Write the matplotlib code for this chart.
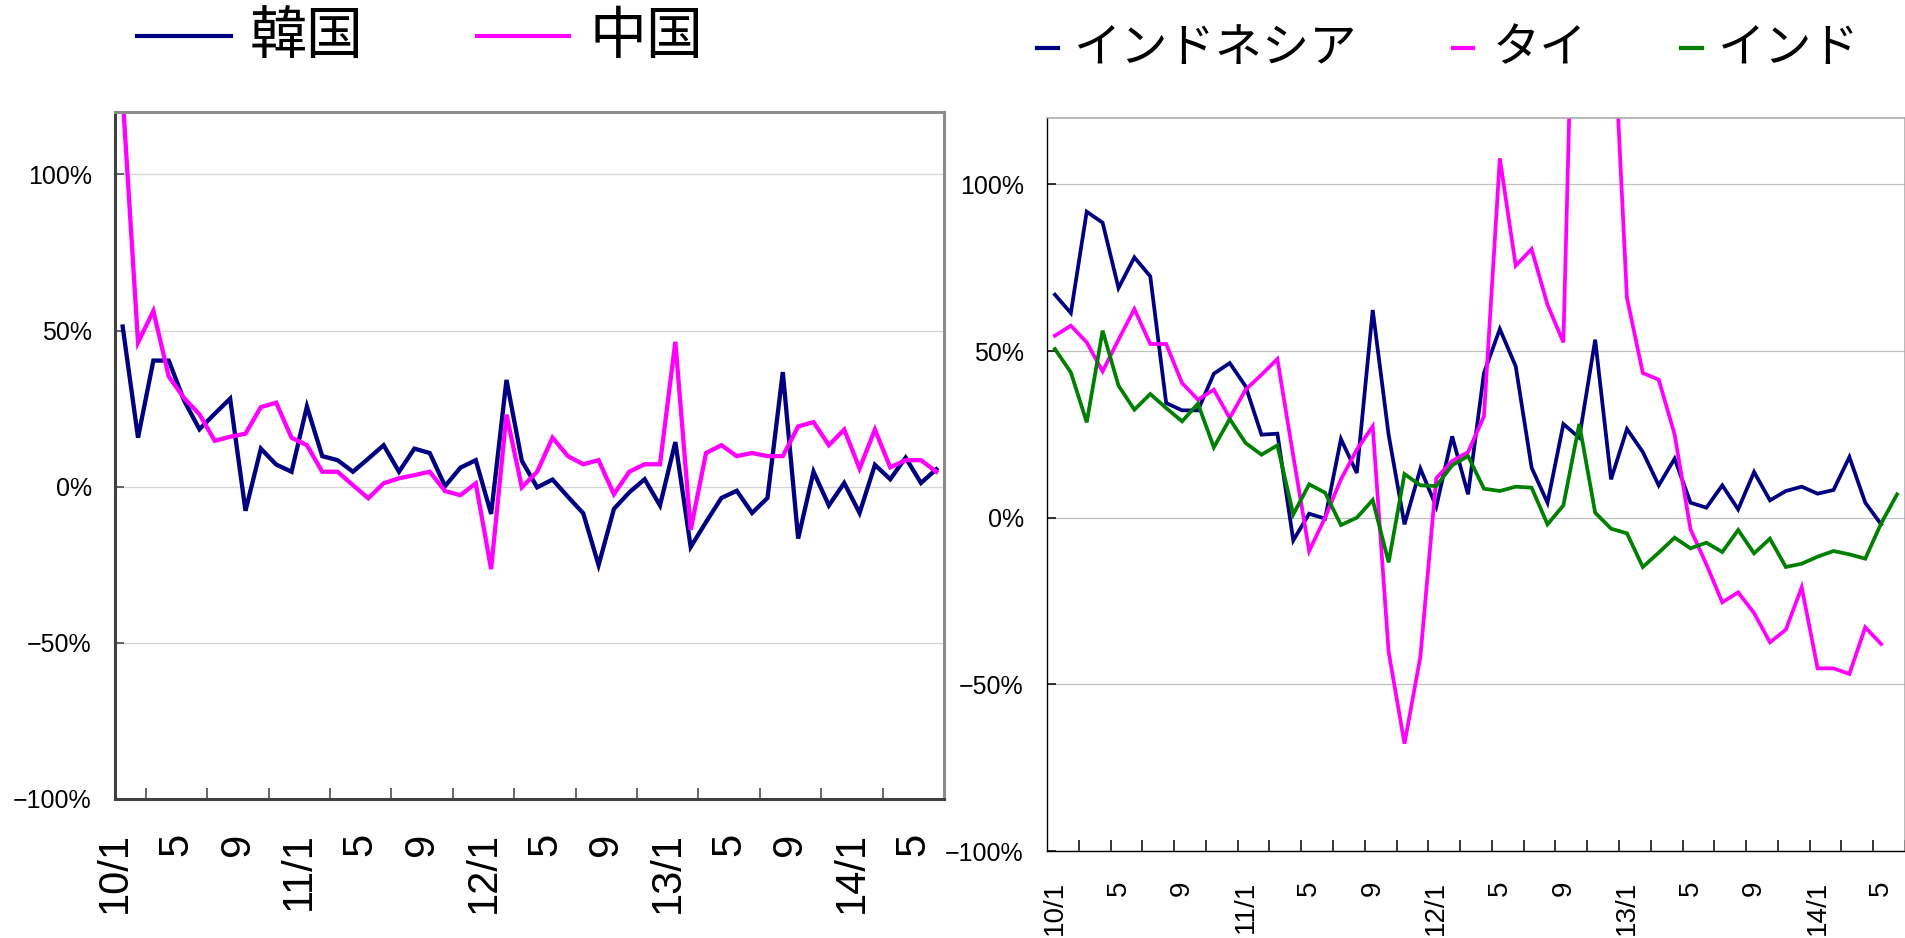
import numpy as np
import matplotlib
matplotlib.use("Agg")
import matplotlib.pyplot as plt
from matplotlib.lines import Line2D

# category axis: monthly, 2010/1 .. 2014/6
n_months = 54
month_labels = ["10/1", "5", "9", "11/1", "5", "9", "12/1", "5", "9",
                "13/1", "5", "9", "14/1", "5"]
pct_ticks = [-100, -50, 0, 50, 100]
pct_labels = ["\u2212100%", "\u221250%", "0%", "50%", "100%"]

# left chart (y/y change, %)
korea = [51.3, 15.7, 40.4, 40.4, 27.6, 18.4, 23.4, 28.2, -7.7, 12.2,
         7.1, 4.8, 25.7, 9.8, 8.5, 4.8, 9.0, 13.3, 4.8, 12.2,
         10.8, 0.2, 6.1, 8.5, -8.7, 34.2, 8.3, -0.2, 2.3, -3.2,
         -8.5, -25.1, -7.1, -1.8, 2.4, -6.0, 14.3, -19.3, -11.3, -3.6,
         -1.3, -8.4, -3.6, 36.7, -16.6, 4.8, -6.0, 1.2, -8.4, 7.0,
         2.4, 9.3, 1.2, 5.6]
china = [125.0, 46.2, 56.3, 35.3, 28.4, 23.2, 14.7, 16.0, 17.0, 25.5,
         26.9, 15.7, 13.3, 4.8, 4.8, 0.5, -3.7, 1.1, 2.7, 3.7,
         4.8, -1.4, -2.7, 1.1, -26.4, 23.1, -0.2, 4.8, 15.7, 9.8,
         7.2, 8.5, -2.4, 4.8, 7.2, 7.2, 46.4, -13.8, 10.8, 13.3,
         9.8, 10.8, 9.8, 9.8, 19.3, 20.7, 13.3, 18.3, 5.8, 18.3,
         6.2, 8.5, 8.5, 4.8]

# right chart
indonesia = [66.9, 61.4, 91.8, 88.5, 68.9, 78.1, 72.4, 34.4, 32.2, 32.2,
             43.2, 46.4, 39.4, 24.9, 25.2, -6.8, 1.2, -0.3, 23.6, 13.4,
             62.3, 24.9, -2.0, 14.7, 3.3, 24.4, 7.0, 43.4, 56.6, 45.4,
             15.0, 4.5, 28.1, 24.0, 53.4, 11.5, 26.6, 19.7, 9.7, 17.7,
             4.5, 3.0, 9.7, 2.5, 13.7, 5.2, 8.0, 9.3, 7.2, 8.3,
             18.2, 4.5, -2.0, np.nan]
thailand = [54.6, 57.6, 52.6, 43.9, 53.4, 62.6, 52.1, 52.1, 40.4, 35.4,
            38.4, 29.9, 38.4, 42.9, 47.6, 18.5, -10.0, 0.0, 11.5, 20.4,
            27.4, -40.2, -67.8, -41.7, 11.8, 17.0, 19.7, 30.4, 107.8, 75.6,
            80.6, 63.9, 52.6, 238.0, 200.0, 164.0, 66.0, 43.4, 41.4, 25.0,
            -3.5, -14.0, -25.4, -22.4, -28.6, -37.4, -33.6, -20.9, -45.2, -45.2,
            -46.9, -32.9, -37.9, np.nan]
india = [50.6, 43.6, 28.6, 56.1, 39.6, 32.4, 37.1, 32.9, 28.9, 34.2,
         21.1, 29.6, 22.4, 18.9, 21.7, 1.0, 10.0, 7.5, -2.2, 0.0,
         5.3, -13.4, 13.1, 9.7, 9.5, 15.7, 18.5, 8.7, 8.0, 9.3,
         9.0, -2.0, 3.7, 28.1, 1.5, -3.3, -4.7, -14.8, -10.5, -6.0,
         -9.2, -7.5, -10.3, -3.7, -10.7, -6.3, -14.8, -13.8, -11.7, -10.0,
         -11.0, -12.3, -1.7, 7.0]

NAVY = "#000080"
MAGENTA = "#FF00FF"
GREEN = "#008000"
JP = ["Noto Sans CJK JP", "DejaVu Sans"]

plt.rcParams["font.family"] = ["Liberation Sans", "DejaVu Sans"]

W, H = 1906, 938
fig = plt.figure(figsize=(W / 100, H / 100), dpi=100)


def px_box(x0, y0, x1, y1):
	return [x0 / W, 1 - y1 / H, (x1 - x0) / W, (y1 - y0) / H]


def setup(ax, lab_pos, lab_size, lab_pad, tick_len, dark, dark_lw, light, light_lw, grid_c):
	ax.set_xlim(-0.5, n_months - 0.5)
	ax.set_ylim(-100, 120)
	ax.set_yticks(pct_ticks, pct_labels)
	ax.yaxis.grid(True, color=grid_c, lw=0.9)
	ax.set_axisbelow(True)
	# labels without marks, marks every 2 months between categories
	ax.set_xticks(lab_pos, month_labels, rotation=90, fontsize=lab_size)
	ax.set_xticks(np.arange(1.5, n_months, 2), minor=True)
	ax.tick_params(axis="x", which="major", length=0, pad=lab_pad)
	ax.tick_params(axis="x", which="minor", direction="in", length=tick_len, width=1.1, color=dark)
	ax.tick_params(axis="y", direction="in", length=6.3, width=1.1, color=dark,
	               labelsize=18, pad=16.8)
	for s in ("left", "bottom"):
		ax.spines[s].set_color(dark)
		ax.spines[s].set_linewidth(dark_lw)
	for s in ("top", "right"):
		ax.spines[s].set_color(light)
		ax.spines[s].set_linewidth(light_lw)


x = np.arange(n_months)

# ---- left chart
ax1 = fig.add_axes(px_box(115, 112, 944, 799))
setup(ax1, np.arange(-0.5, n_months - 2, 4), 30, 24, 7.7,
      "#404040", 2.2, "#8c8c8c", 2.2, "#d4d4d4")
ax1.plot(x, korea, color=NAVY, lw=3.1, solid_joinstyle="miter")
ax1.plot(x, china, color=MAGENTA, lw=3.1, solid_joinstyle="miter")

# ---- right chart
ax2 = fig.add_axes(px_box(1047, 117.7, 1905, 851))
setup(ax2, np.arange(0, n_months, 4), 20, 21.5, 8,
      "#000000", 1.0, "#a6a6a6", 1.1, "#c0c0c0")
ax2.plot(x, indonesia, color=NAVY, lw=2.7, solid_joinstyle="miter")
ax2.plot(x, thailand, color=MAGENTA, lw=2.7, solid_joinstyle="miter")
ax2.plot(x, india, color=GREEN, lw=2.7, solid_joinstyle="miter")


# ---- legends drawn on the figure
def legend_item(x0, x1, y, color, lw, text, tx, size):
	fig.add_artist(Line2D([x0 / W, x1 / W], [1 - y / H, 1 - y / H],
	                      transform=fig.transFigure, color=color, lw=lw))
	fig.text(tx / W, 1 - y / H, text, family=JP, fontsize=size,
	         ha="left", va="center")


legend_item(137, 231, 36.5, NAVY, 3.0, "韓国", 250, 41)
legend_item(477, 569, 36.5, MAGENTA, 3.0, "中国", 590, 41)
legend_item(1037, 1058, 48.5, NAVY, 3.0, "インドネシア", 1074, 34)
legend_item(1453, 1473, 48.5, MAGENTA, 3.0, "タイ", 1493, 34)
legend_item(1681, 1702, 48.5, GREEN, 3.0, "インド", 1718, 34)

fig.savefig("out.png", dpi=100)
